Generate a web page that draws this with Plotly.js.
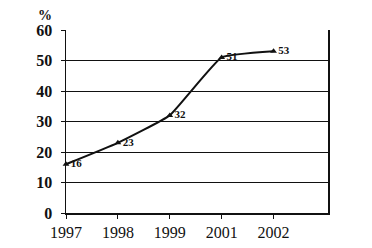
<!DOCTYPE html>
<html>
<head>
<meta charset="utf-8">
<script src="https://cdn.plot.ly/plotly-3.0.1.min.js"></script>
<style>html,body{margin:0;padding:0;background:#fff;}#chart{width:372px;height:248px;}</style>
</head>
<body>
<div id="chart"></div>
<script>
var years = ['1997', '1998', '1999', '2001', '2002'];
var values = [16, 23, 32, 51, 53];
var labels = ['16', '23', '32', '51', '53'];
var yTicks = [0, 10, 20, 30, 40, 50, 60];

var trace = {
  x: years,
  y: values,
  text: labels,
  type: 'scatter',
  mode: 'lines+markers+text',
  line: {color: '#111', width: 2, shape: 'spline', smoothing: 0.35},
  marker: {symbol: 'triangle-up', size: 6, color: '#111'},
  textposition: 'middle right',
  textfont: {family: 'Liberation Serif', size: 11, color: '#111', weight: 'bold'},
  cliponaxis: false,
  hoverinfo: 'none'
};

var layout = {
  width: 372, height: 248,
  margin: {l: 66, r: 44, t: 30, b: 35},
  paper_bgcolor: '#fff', plot_bgcolor: '#fff',
  showlegend: false,
  xaxis: {
    type: 'category',
    range: [0, 5.05],
    showgrid: false, zeroline: false,
    showline: true, linecolor: '#111', linewidth: 1.5,
    ticks: 'outside', ticklen: 4, tickcolor: '#111',
    tickfont: {family: 'Liberation Serif', size: 16, color: '#111'},
    fixedrange: true
  },
  yaxis: {
    range: [0, 60],
    tickvals: yTicks,
    showgrid: true, gridcolor: '#111', gridwidth: 1,
    zeroline: false,
    showline: true, linecolor: '#111', linewidth: 1.5, mirror: true,
    ticks: 'outside', ticklen: 4, tickcolor: '#111',
    ticklabelstandoff: 5,
    tickfont: {family: 'Liberation Serif', size: 16, color: '#111', weight: 'bold'},
    fixedrange: true
  },
  annotations: [{
    text: '%', xref: 'paper', yref: 'paper', x: -0.08, y: 1.03,
    xanchor: 'center', yanchor: 'bottom', showarrow: false,
    font: {family: 'Liberation Serif', size: 14, color: '#111', weight: 'bold'}
  }]
};

Plotly.newPlot('chart', [trace], layout, {displayModeBar: false, staticPlot: true});
</script>
</body>
</html>
